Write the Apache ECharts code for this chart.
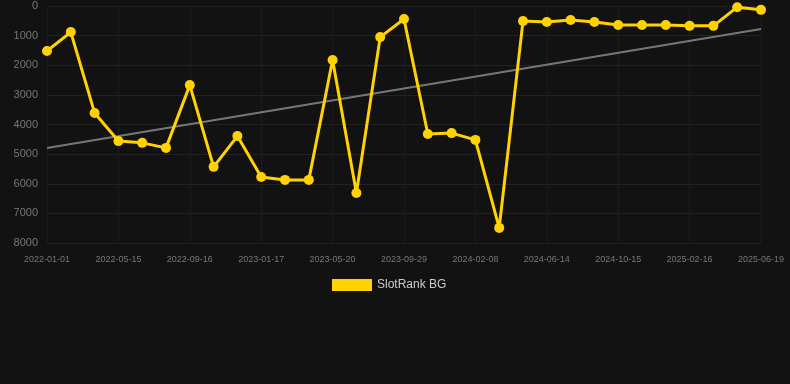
<!DOCTYPE html>
<html>
<head>
<meta charset="utf-8">
<script src="https://cdn.jsdelivr.net/npm/echarts@6/dist/echarts.min.js"></script>
<style>
  html, body { margin: 0; padding: 0; background: #121212; }
  #container { width: 790px; height: 384px; }
</style>
</head>
<body>
<div id="container"></div>
<script>
// dates on the category axis (every third one is labelled)
var dates = [
    '2022-01-01', '2022-02-14', '2022-03-31', '2022-05-15', '2022-06-25', '2022-08-05',
    '2022-09-16', '2022-10-27', '2022-12-07', '2023-01-17', '2023-02-27', '2023-04-09',
    '2023-05-20', '2023-07-03', '2023-08-16', '2023-09-29', '2023-11-12', '2023-12-26',
    '2024-02-08', '2024-03-22', '2024-05-03', '2024-06-14', '2024-07-25', '2024-09-04',
    '2024-10-15', '2024-11-25', '2025-01-06', '2025-02-16', '2025-03-29', '2025-05-09',
    '2025-06-19'
];
// rank values (lower is better, axis is inverted)
var ranks = [
    1520, 880, 3610, 4560, 4620, 4790,
    2670, 5430, 4390, 5770, 5870, 5870,
    1820, 6310, 1050, 440, 4320, 4290,
    4520, 7490, 510, 540, 470, 540,
    640, 640, 640, 670, 670, 40,
    130
];
// trend line, value at first and last date
var trendEnds = [4790, 780];
var yTicks = { min: 0, max: 8000, step: 1000 };

function grafico() {
    var dom = document.getElementById('container');
    var myChart = echarts.init(dom);
    var trend = dates.map(function (d, i) {
        if (i === 0) return trendEnds[0];
        if (i === dates.length - 1) return trendEnds[1];
        return null;
    });
    var option = {
        backgroundColor: '#121212',
        animation: false,
        grid: { left: 47, right: 29, top: 6, bottom: 141 },
        legend: {
            left: 327,
            top: 274,
            itemWidth: 40,
            itemHeight: 12,
            icon: 'rect',
            data: ['SlotRank BG'],
            textStyle: { color: '#cccccc', fontSize: 12, fontFamily: 'Arial, Liberation Sans, sans-serif' }
        },
        xAxis: {
            type: 'category',
            data: dates,
            boundaryGap: false,
            axisLine: { show: false },
            axisTick: { show: false },
            axisLabel: {
                interval: 2,
                color: '#777777',
                fontSize: 9,
                margin: 12,
                fontFamily: 'Arial, Liberation Sans, sans-serif'
            },
            splitLine: { show: true, interval: 2, lineStyle: { color: '#1c1c1c' } }
        },
        yAxis: {
            type: 'value',
            inverse: true,
            min: yTicks.min,
            max: yTicks.max,
            interval: yTicks.step,
            axisLine: { show: false },
            axisTick: { show: false },
            axisLabel: {
                color: '#777777',
                fontSize: 11,
                margin: 9,
                formatter: function (v) { return String(v); },
                fontFamily: 'Arial, Liberation Sans, sans-serif'
            },
            splitLine: { lineStyle: { color: '#222222' } }
        },
        series: [
            {
                name: 'SlotRank BG',
                type: 'line',
                data: ranks,
                symbol: 'circle',
                symbolSize: 10,
                itemStyle: { color: '#ffd200' },
                lineStyle: { color: '#ffd200', width: 3 },
                z: 3
            },
            {
                name: 'trend',
                type: 'line',
                data: trend,
                connectNulls: true,
                symbol: 'none',
                lineStyle: { color: '#777777', width: 2 },
                z: 2
            }
        ]
    };
    myChart.setOption(option);
}
grafico();
</script>
</body>
</html>
